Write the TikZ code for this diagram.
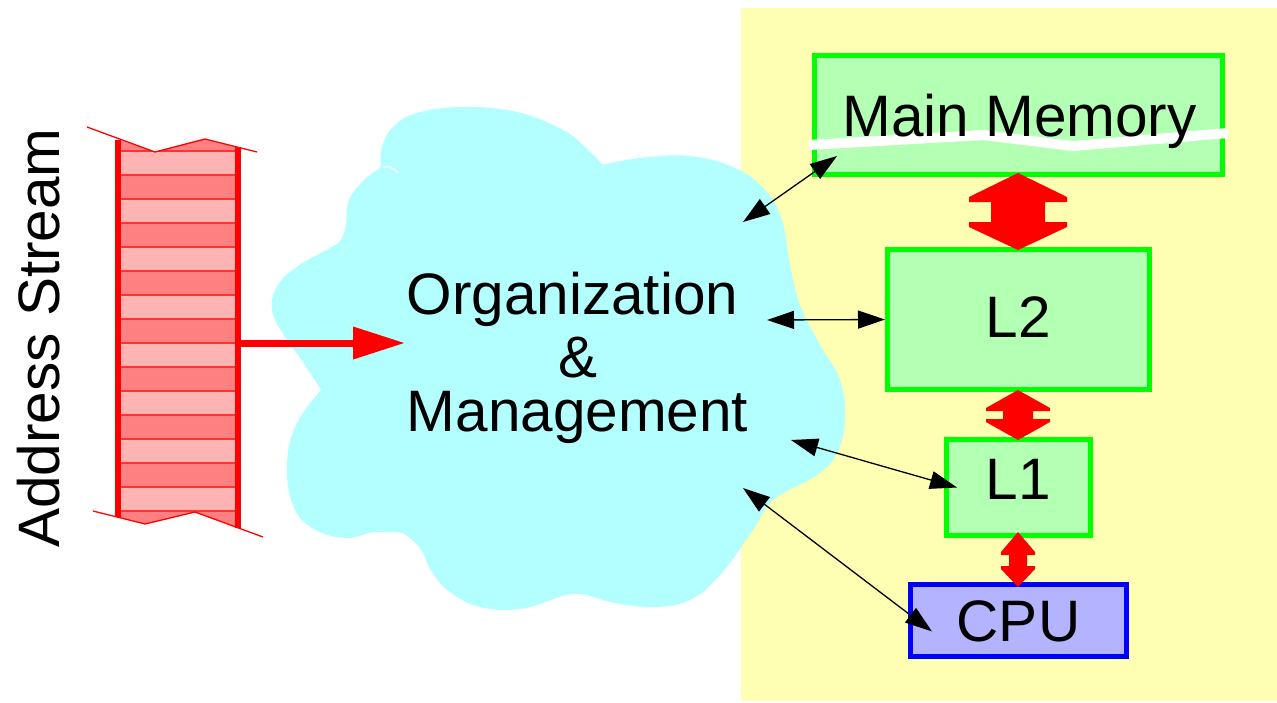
\documentclass[tikz,border=0pt]{standalone}
\usepackage{fontspec}
\setmainfont{Liberation Sans}
\usetikzlibrary{arrows.meta,calc}
\definecolor{memfill}{RGB}{179,255,179}
\definecolor{cpufill}{RGB}{179,179,255}
\definecolor{cloudfill}{RGB}{179,255,255}
\definecolor{bgyellow}{RGB}{255,255,179}
\definecolor{lightstripe}{RGB}{255,179,179}
\definecolor{darkstripe}{RGB}{255,128,128}
\definecolor{boxgreen}{RGB}{0,255,0}
\begin{document}
\begin{tikzpicture}[x=1pt,y=-1pt,
  lbl/.style={font=\fontsize{58.5}{60}\selectfont, text height=41.9pt, text depth=0pt, inner sep=0pt},
  membox/.style={lbl, draw=boxgreen, fill=memfill, line width=5pt},
  cpubox/.style={lbl, draw=blue, fill=cpufill, line width=5pt},
  link/.style={line width=1.3pt, {Triangle[length=27pt,width=18pt]}-{Triangle[length=27pt,width=18pt]}},
  bus/.style={fill=red},
  edge/.style={red, line width=1.3pt},
  rail/.style={red, line width=6pt},
]
\useasboundingbox (0,0) rectangle (1277,702);

% cache-side background
\fill[bgyellow] (741,8) rectangle (1277,701);

% address stream: striped strip with torn ends
\begin{scope}
  \clip (118,139.5) -- (155,152) -- (205,139) -- (238,147.25) -- (238,527.8)
        -- (195,512) -- (145,524) -- (118,517.25) -- cycle;
  \fill[darkstripe] (110,120) rectangle (245,545);
  \foreach \k in {0,2,...,14} \fill[lightstripe] (118,151+24*\k) rectangle (238,175+24*\k);
  \foreach \k in {0,...,15} \draw[red!80, line width=2pt] (110,151+24*\k) -- (245,151+24*\k);
\end{scope}
\draw[edge] (87,127) -- (155,152) -- (205,139) -- (257,152);
\draw[edge] (93,511) -- (145,524) -- (195,512) -- (263,537);
\draw[rail] (118,139.5) -- (118,517.25);
\draw[rail] (238,147.25) -- (238,527.8);
\node[lbl, rotate=90] (addr) at (39,338) {Address Stream};

% organization cloud
\fill[cloudfill]
  plot[smooth, tension=0.7] coordinates {(347,217) (349,200) (362,182) (381,167)}
  -- plot[smooth, tension=0.7] coordinates {(381,167) (382,147) (393,127) (417,113) (463,107) (517,112) (563,130) (585,147) (603,165)}
  -- plot[smooth, tension=0.7] coordinates {(603,165) (640,158) (690,156) (735,168) (765,190) (782,220) (790,265) (800,305) (820,345) (840,380) (845,420) (837,453) (820,473) (793,488)}
  -- plot[smooth, tension=0.7] coordinates {(793,488) (770,503) (753,530) (720,575) (690,600) (655,607) (615,603) (580,594) (556,598)}
  -- plot[smooth, tension=0.7] coordinates {(556,598) (520,609) (480,607) (450,592) (432,572) (420,548) (403,533)}
  -- plot[smooth, tension=0.7] coordinates {(403,533) (375,532) (345,538) (312,528) (293,505) (287,465) (296,425) (321,390)}
  -- plot[smooth, tension=0.7] coordinates {(321,390) (303,362) (285,337) (272,310) (278,285) (298,266) (330,248) (342,238) (347,217)}
  -- cycle;
\draw[white, line width=1.5pt] (383,167) .. controls (390,166) .. (398,173);

\node[lbl] (org)  at (572.5,294) {Organization};
\node[lbl] (amp)  at (578,357) {\&};
\node[lbl] (mgmt) at (577.5,411) {Management};

% memory hierarchy
\node[membox, minimum width=408pt, minimum height=119pt] (mm) at (1018.5,115) {};
\draw[white, line width=10pt] (809,145) -- (983,135) -- (1073,146) -- (1228,133);
\node[lbl] (mmlabel) at (1019.5,116) {Main Memory};
\node[membox, text depth=5pt, minimum width=262pt, minimum height=140pt] (l2) at (1018.5,319.5) {L2};
\node[membox, text depth=17pt, minimum width=144pt, minimum height=96pt] (l1) at (1018.5,487.5) {L1};
\node[cpubox, minimum width=216pt, minimum height=72pt] (cpu) at (1018.5,620.5) {CPU};

% wide transfer paths between levels
\fill[bus] (1018,173) -- (1067,197) -- (1067,202) -- (1045,202) -- (1045,222) -- (1067,222) -- (1067,227)
  -- (1018,250) -- (969,227) -- (969,222) -- (991,222) -- (991,202) -- (969,202) -- (969,197) -- cycle;
\fill[bus] (1018,390) -- (1050,408) -- (1050,411) -- (1033,411) -- (1033,419) -- (1050,419) -- (1050,422)
  -- (1018,440) -- (986,422) -- (986,419) -- (1003,419) -- (1003,411) -- (986,411) -- (986,408) -- cycle;
\fill[bus] (1018,532) -- (1035,552) -- (1035,555) -- (1027,555) -- (1027,566) -- (1035,566) -- (1035,569)
  -- (1018,587) -- (1001,569) -- (1001,566) -- (1009,566) -- (1009,555) -- (1001,555) -- (1001,552) -- cycle;

% address stream feeding the cloud
\coordinate (sout) at (238,343);
\coordinate (sin) at (405,343);
\draw[red, line width=7pt, -{Triangle[length=52pt,width=31pt]}] (sout) -- (sin);

% control links from the cloud to each level
\coordinate (cA) at (743,222);
\coordinate (cB) at (767,320);
\coordinate (cC) at (791,440);
\coordinate (cD) at (743,488);
\draw[link] (cA) -- ($(mm.south west)+(25,-21)$);
\draw[link] (cB) -- (l2.west);
\draw[link] (cC) -- ($(l1.west)+(13,0)$);
\draw[link] (cD) -- ($(cpu.west)+(24,11)$);
\end{tikzpicture}
\end{document}
